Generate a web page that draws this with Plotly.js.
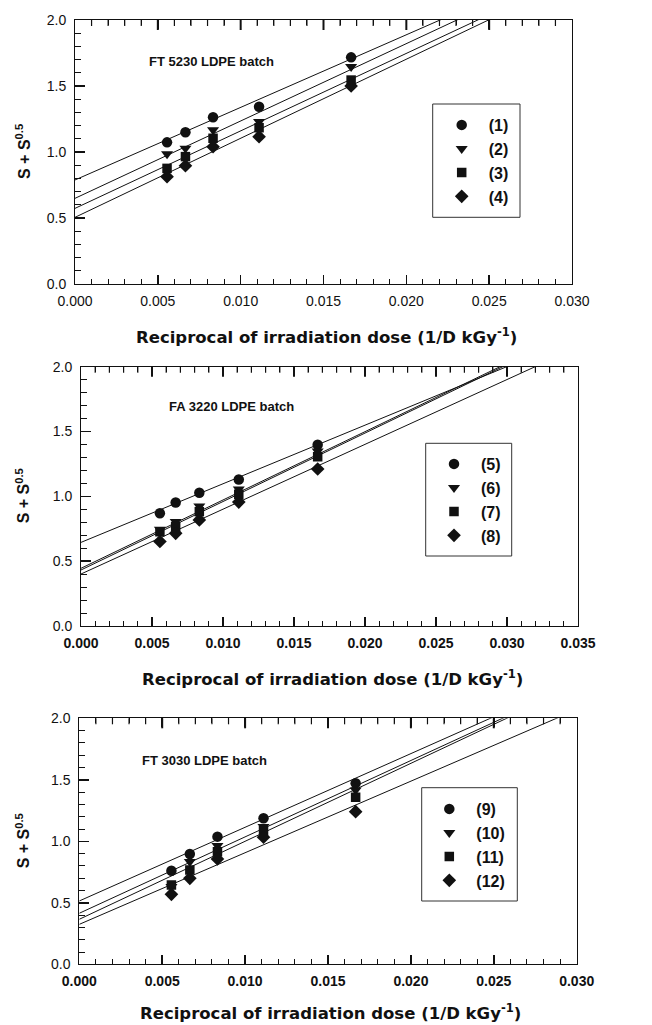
<!DOCTYPE html>
<html>
<head>
<meta charset="utf-8">
<script src="https://cdn.plot.ly/plotly-3.0.1.min.js"></script>
<style>
html,body{margin:0;padding:0;background:#fff;}
#chart{width:652px;height:1025px;}
</style>
</head>
<body>
<div id="chart"></div>
<script>
// ---- data ----
const doseReciprocal = [0.005556, 0.006667, 0.008333, 0.011111, 0.016667]; // 1/180,1/150,1/120,1/90,1/60 kGy^-1

const panelTitles = ["FT 5230 LDPE batch", "FA 3220 LDPE batch", "FT 3030 LDPE batch"];
const seriesNames1 = ["(1)", "(2)", "(3)", "(4)"];
const seriesNames2 = ["(5)", "(6)", "(7)", "(8)"];
const seriesNames3 = ["(9)", "(10)", "(11)", "(12)"];

// panel 1: FT 5230
const s1 = [1.073, 1.149, 1.263, 1.343, 1.717];
const s2 = [0.985, 1.028, 1.167, 1.230, 1.646];
const s3 = [0.876, 0.965, 1.104, 1.184, 1.545];
const s4 = [0.813, 0.896, 1.040, 1.116, 1.500];
// panel 2: FA 3220
const s5 = [0.870, 0.952, 1.028, 1.130, 1.398];
const s6 = [0.745, 0.805, 0.924, 1.055, 1.348];
const s7 = [0.727, 0.766, 0.882, 1.016, 1.306];
const s8 = [0.652, 0.715, 0.818, 0.956, 1.211];
// panel 3: FT 3030
const s9  = [0.761, 0.897, 1.038, 1.187, 1.472];
const s10 = [0.631, 0.834, 0.964, 1.119, 1.417];
const s11 = [0.645, 0.767, 0.916, 1.086, 1.358];
const s12 = [0.569, 0.699, 0.856, 1.033, 1.241];

// fitted straight lines (intercept, slope)
const intercept1 = [0.788, 0.649, 0.573, 0.505];
const slope1     = [55.0, 58.6, 58.7, 59.9];
const intercept2 = [0.645, 0.445, 0.432, 0.401];
const slope2     = [45.2, 52.7, 52.8, 50.0];
const intercept3 = [0.515, 0.415, 0.366, 0.325];
const slope3     = [59.9, 62.1, 63.4, 58.2];

const xMax = [0.030, 0.035, 0.030];
const xMajorStep = 0.005, xMinorStep = 0.001;

// ---- layout helpers ----
const W = 652, H = 1025;
const px = v => v / W;
const py = v => 1 - v / H;
const FONT = "Liberation Sans, Arial, sans-serif";
const TITLEFONT = "DejaVu Sans, Liberation Sans, Arial, sans-serif";

const symbols = ["circle", "triangle-down", "square", "diamond"];
const sizes = [10.5, 10.5, 9.5, 10.5];

const panels = [
  {vals: [s1, s2, s3, s4], names: seriesNames1, a: intercept1, b: slope1},
  {vals: [s5, s6, s7, s8], names: seriesNames2, a: intercept2, b: slope2},
  {vals: [s9, s10, s11, s12], names: seriesNames3, a: intercept3, b: slope3}
];

const traces = [];
panels.forEach((p, k) => {
  const xa = k === 0 ? "x" : "x" + (k + 1);
  const ya = k === 0 ? "y" : "y" + (k + 1);
  const lg = k === 0 ? "legend" : "legend" + (k + 1);
  for (let i = 0; i < 4; i++) {
    traces.push({
      type: "scatter", mode: "lines", xaxis: xa, yaxis: ya,
      x: [0, xMax[k]], y: [p.a[i], p.a[i] + p.b[i] * xMax[k]],
      line: {color: "#111", width: 1}, showlegend: false, hoverinfo: "skip"
    });
  }
  for (let i = 0; i < 4; i++) {
    traces.push({
      type: "scatter", mode: "markers", xaxis: xa, yaxis: ya, legend: lg,
      x: doseReciprocal, y: p.vals[i], name: p.names[i],
      marker: {symbol: symbols[i], size: sizes[i], color: "#111"}
    });
  }
});

// pixel geometry of the three plot boxes: [left, right, top, bottom]
const boxes = [
  [75, 572, 20, 284],
  [81, 578, 366.7, 626],
  [79.3, 576.7, 718.3, 964.3]
];

function xAxis(k, bold) {
  const b = boxes[k];
  return {
    domain: [px(b[0]), px(b[1])], anchor: k === 0 ? "y" : "y" + (k + 1),
    range: [0, xMax[k]], tick0: 0, dtick: xMajorStep, tickformat: ".3f",
    showline: true, linecolor: "#111", linewidth: 1, mirror: "ticks",
    ticks: "inside", ticklen: 9, tickwidth: 1.5, tickcolor: "#111",
    minor: {dtick: xMinorStep, ticks: "inside", ticklen: 5, tickwidth: 1, tickcolor: "#111"},
    showgrid: false, zeroline: false, fixedrange: true,
    ticklabelstandoff: 4,
    tickfont: {family: FONT, size: 14, color: "#111", weight: bold ? "bold" : "normal"}
  };
}
function yAxis(k) {
  const b = boxes[k];
  return {
    domain: [py(b[3]), py(b[2])], anchor: k === 0 ? "x" : "x" + (k + 1),
    range: [0, 2], tick0: 0, dtick: 0.5, tickformat: ".1f",
    showline: true, linecolor: "#111", linewidth: 1, mirror: true,
    ticks: "inside", ticklen: 10, tickwidth: 1.5, tickcolor: "#111",
    minor: {dtick: 0.1, ticks: "inside", ticklen: 6, tickwidth: 1, tickcolor: "#111"},
    showgrid: false, zeroline: false, fixedrange: true,
    ticklabelstandoff: 5,
    tickfont: {family: FONT, size: 14, color: "#111"}
  };
}

// legend boxes [left, right, top, bottom] and legend anchor [x, y]
const legendBoxes = [
  [432.7, 520, 104, 217.3],
  [425.7, 511.7, 443.3, 556],
  [421.7, 517.3, 787.7, 901]
];
const legendPos = [
  [434.7, 108],
  [427, 447],
  [422.3, 792]
];
function legendCfg(k) {
  return {
    x: px(legendPos[k][0]), y: py(legendPos[k][1]), xanchor: "left", yanchor: "top",
    xref: "paper", yref: "paper",
    bgcolor: "rgba(0,0,0,0)", borderwidth: 0, itemwidth: 44, tracegroupgap: 0,
    font: {family: FONT, size: 16, color: "#111", weight: "bold"},
    itemclick: false, itemdoubleclick: false
  };
}

const shapes = legendBoxes.map(b => ({
  type: "rect", xref: "paper", yref: "paper",
  x0: px(b[0]), x1: px(b[1]), y0: py(b[3]), y1: py(b[2]),
  line: {color: "#333", width: 1}, fillcolor: "rgba(0,0,0,0)", layer: "above"
}));

// tick marks along the top edge of each box, drawn in paper coordinates
boxes.forEach((b, k) => {
  const nMinor = Math.round(xMax[k] / xMinorStep);
  const per = Math.round(xMajorStep / xMinorStep);
  for (let j = 1; j < nMinor; j++) {
    const xpix = b[0] + (b[1] - b[0]) * j / nMinor;
    const major = j % per === 0;
    const len = major ? 10 : 6;
    shapes.push({
      type: "line", xref: "paper", yref: "paper",
      x0: px(xpix), x1: px(xpix), y0: py(b[2]), y1: py(b[2] + len),
      line: {color: "#111", width: major ? 2 : 1.2}, layer: "above"
    });
  }
});

const annotations = [];
const labelPos = [[146.7, 61.7], [166.7, 406], [140, 760]];
panelTitles.forEach((t, k) => {
  annotations.push({
    xref: "paper", yref: "paper", x: px(labelPos[k][0]), y: py(labelPos[k][1]),
    xanchor: "left", yanchor: "middle", showarrow: false, text: t,
    font: {family: FONT, size: 13, color: "#111", weight: "bold"}
  });
  const b = boxes[k];
  const xTitleY = [336, 678, 1012][k];
  annotations.push({
    xref: "paper", yref: "paper", x: px((b[0] + b[1]) / 2 + 3), y: py(xTitleY),
    xanchor: "center", yanchor: "middle", showarrow: false,
    text: "Reciprocal of irradiation dose (1/D kGy<sup>-1</sup>)",
    font: {family: TITLEFONT, size: 16.5, color: "#111", weight: "bold"}
  });
  annotations.push({
    xref: "paper", yref: "paper", x: px(23), y: py((b[2] + b[3]) / 2),
    xanchor: "center", yanchor: "middle", showarrow: false, textangle: -90,
    text: "S + S<sup>0.5</sup>",
    font: {family: FONT, size: 16, color: "#111", weight: "bold"}
  });
});

const layout = {
  width: W, height: H,
  margin: {l: 0, r: 0, t: 0, b: 0},
  paper_bgcolor: "#fff", plot_bgcolor: "#fff",
  showlegend: true,
  xaxis: xAxis(0, false), yaxis: yAxis(0),
  xaxis2: xAxis(1, true), yaxis2: yAxis(1),
  xaxis3: xAxis(2, true), yaxis3: yAxis(2),
  legend: legendCfg(0), legend2: legendCfg(1), legend3: legendCfg(2),
  shapes: shapes, annotations: annotations
};

Plotly.newPlot("chart", traces, layout, {staticPlot: true, displayModeBar: false});
</script>
</body>
</html>
